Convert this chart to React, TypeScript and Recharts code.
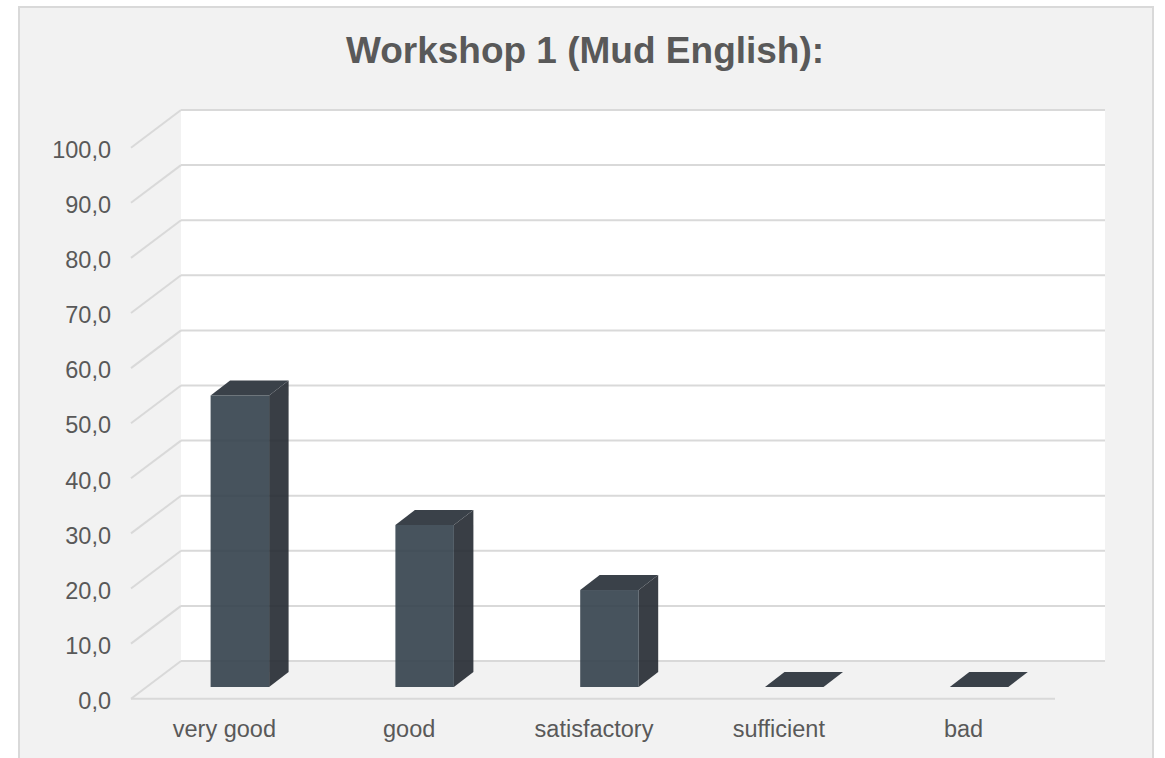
import { BarChart, Bar, XAxis, YAxis, CartesianGrid } from 'recharts';

const categories = ['very good', 'good', 'satisfactory', 'sufficient', 'bad'];
const scores = [52.9, 29.4, 17.6, 0, 0];
const yTicks = [0, 10, 20, 30, 40, 50, 60, 70, 80, 90, 100];

const chartData = categories.map((name, i) => ({ name, score: scores[i] }));

const GRID = '#d9d9d9';
const TEXT = '#595959';
const FONT = '"Liberation Sans", Arial, sans-serif';

// fake 3d: the floor runs from the back wall forward by this much
const FLOOR_DX = -50;
const FLOOR_DY = 37.7;
const FLOOR_WIDTH = 924;

function YTick({ x, y, payload }: any) {
  const fx = x + FLOOR_DX;
  const fy = y + FLOOR_DY;
  return (
    <g>
      <line x1={x} y1={y} x2={fx} y2={fy} stroke={GRID} strokeWidth={2} />
      {payload.value === 0 && (
        <line x1={fx} y1={fy} x2={fx + FLOOR_WIDTH} y2={fy} stroke={GRID} strokeWidth={2} />
      )}
      <text x={x - 70} y={fy + 4} textAnchor="end" dominantBaseline="middle" fontSize={23.5} fontFamily={FONT} fill={TEXT}>
        {payload.value.toFixed(1).replace('.', ',')}
      </text>
    </g>
  );
}

function XTick({ x, y, payload }: any) {
  return (
    <text x={x - 49} y={y + 62} textAnchor="middle" dominantBaseline="middle" fontSize={23.5} fontFamily={FONT} fill={TEXT}>
      {payload.value}
    </text>
  );
}

// box with front, side and top faces
function Box3D({ x, y, width, height }: any) {
  const left = x - 33.4;
  const top = y + 26;
  const right = left + width;
  const bottom = top + height;
  const dx = 19.5;
  const dy = 15;
  return (
    <g>
      <polygon points={`${right},${top} ${right + dx},${top - dy} ${right + dx},${bottom - dy} ${right},${bottom}`} fill="#232931" fillOpacity={0.9} />
      <polygon points={`${left},${top} ${left + dx},${top - dy} ${right + dx},${top - dy} ${right},${top}`} fill="#3a4149" />
      {height > 0 && <rect x={left} y={top} width={width} height={height} fill="#33404b" fillOpacity={0.9} />}
    </g>
  );
}

export default function App() {
  return (
    <div style={{ position: 'absolute', left: 0, top: 0, width: 1165, height: 758, background: '#fff', overflow: 'hidden' }}>
      <div style={{ position: 'absolute', left: 18, top: 6, width: 1132, height: 760, background: '#f2f2f2', border: '2px solid #d9d9d9' }} />
      <div style={{ position: 'absolute', left: 0, top: 0 }}>
        <BarChart width={1165} height={758} data={chartData} barSize={58.5} margin={{ top: 110, right: 60, bottom: 0, left: 81 }}>
          <text x={585} y={62.5} textAnchor="middle" fontSize={37} fontWeight="bold" fontFamily={FONT} fill={TEXT}>
            Workshop 1 (Mud English):
          </text>
          <CartesianGrid vertical={false} stroke={GRID} strokeWidth={2} fill="#ffffff" />
          <XAxis dataKey="name" height={97} axisLine={false} tickLine={false} tick={<XTick />} interval={0} />
          <YAxis domain={[0, 100]} ticks={yTicks} width={100} axisLine={false} tickLine={false} tickSize={0} tickMargin={0} tick={<YTick />} interval={0} />
          <Bar dataKey="score" shape={<Box3D />} isAnimationActive={false} />
        </BarChart>
      </div>
    </div>
  );
}
